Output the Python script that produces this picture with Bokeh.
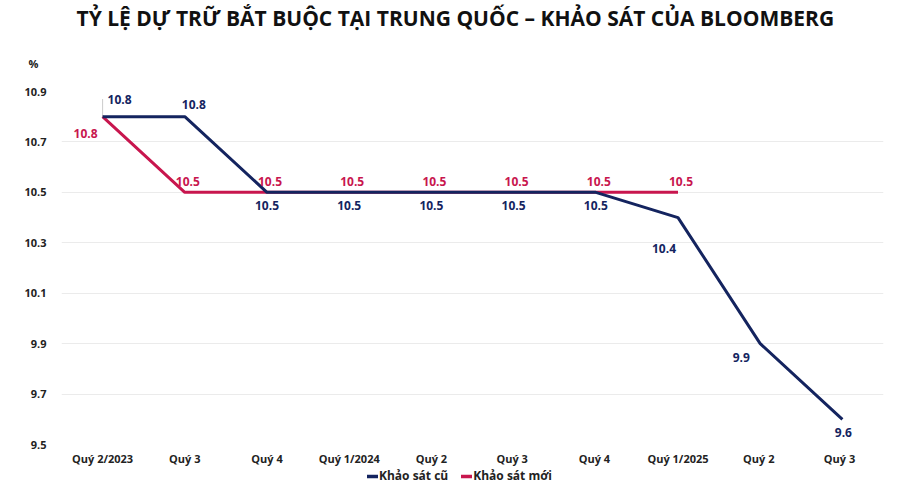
from bokeh.plotting import figure
from bokeh.layouts import column
from bokeh.models import Range1d, Legend, LegendItem, ColumnDataSource, FixedTicker, Title
from bokeh.core.properties import value
from bokeh.embed import file_html
from bokeh.resources import INLINE

# ---- data ----
quarters = ["Quý 2/2023", "Quý 3", "Quý 4", "Quý 1/2024", "Quý 2", "Quý 3 ",
            "Quý 4 ", "Quý 1/2025", "Quý 2 ", "Quý 3  "]
old_survey = [10.8, 10.8, 10.5, 10.5, 10.5, 10.5, 10.5, 10.4, 9.9, 9.6]
new_survey = [10.8, 10.5, 10.5, 10.5, 10.5, 10.5, 10.5, 10.5]
y_ticks = [9.5, 9.7, 9.9, 10.1, 10.3, 10.5, 10.7, 10.9]
title_text = "TỶ LỆ DỰ TRỮ BẮT BUỘC TẠI TRUNG QUỐC – KHẢO SÁT CỦA BLOOMBERG"
series_names = ["Khảo sát cũ", "Khảo sát mới"]
unit_label = "%"

NAVY = "#14245f"
RED = "#c8164e"
FONT = "Open Sans"

p = figure(width=884, height=468, x_range=quarters, y_range=Range1d(9.5, 10.9),
           output_backend="svg", toolbar_location=None, title=None,
           min_border_left=61, min_border_right=1, min_border_top=0,
           min_border_bottom=24)
p.outline_line_color = None
p.background_fill_color = "white"

# titles (first added = closest to the frame)
p.add_layout(Title(text=unit_label, align="left", offset=-33, standoff=42,
                   text_font=FONT, text_font_size="11px", text_font_style="bold",
                   text_color="#222222"), "above")
p.add_layout(Title(text=title_text, align="left", offset=15, standoff=2,
                   text_font=FONT, text_font_size="21px", text_font_style="bold",
                   text_color="#111111"), "above")

# axes
p.yaxis.ticker = FixedTicker(ticks=y_ticks)
p.yaxis.axis_line_color = None
p.yaxis.major_tick_line_color = None
p.yaxis.minor_tick_line_color = None
p.yaxis.major_label_text_font = FONT
p.yaxis.major_label_text_font_size = "11px"
p.yaxis.major_label_text_font_style = "bold"
p.yaxis.major_label_text_color = "#222222"
p.yaxis.major_label_standoff = 9

p.xaxis.axis_line_color = None
p.xaxis.major_tick_line_color = None
p.xaxis.minor_tick_line_color = None
p.xaxis.major_label_text_font = FONT
p.xaxis.major_label_text_font_size = "11px"
p.xaxis.major_label_text_font_style = "bold"
p.xaxis.major_label_text_color = "#222222"
p.xaxis.major_label_standoff = 0

p.xgrid.grid_line_color = None
p.ygrid.grid_line_color = "#ebebeb"
p.ygrid.grid_line_width = 1

# lines
old_src = ColumnDataSource(dict(x=quarters, y=old_survey,
                                t=[f"{v:.1f}" for v in old_survey]))
new_src = ColumnDataSource(dict(x=quarters[:len(new_survey)], y=new_survey,
                                t=[f"{v:.1f}" for v in new_survey]))

# leader line for first label
p.segment(x0=[quarters[0]], y0=[old_survey[0]], x1=[quarters[0]], y1=[old_survey[0] + 0.07],
          line_color="#cccccc", line_width=1)

r_new = p.line("x", "y", source=new_src, line_color=RED, line_width=3)
r_old = p.line("x", "y", source=old_src, line_color=NAVY, line_width=3)

# label offsets (screen px)
old_src.data["dx"] = [17, 9, 0, 0, 0, 0, 0, -14, -19, 1]
old_src.data["dy"] = [-17, -12, 13, 13, 13, 13, 13, 31, 14, 13]
new_src.data["dx"] = [-17, 3, 3, 3, 3, 3, 3, 3]
new_src.data["dy"] = [17, -11, -11, -11, -11, -11, -11, -11]

p.text("x", "y", text="t", source=old_src, x_offset="dx", y_offset="dy",
       text_font=value(FONT), text_font_size="12px", text_font_style="bold",
       text_color=NAVY, text_align="center", text_baseline="middle")
p.text("x", "y", text="t", source=new_src, x_offset="dx", y_offset="dy",
       text_font=value(FONT), text_font_size="12px", text_font_style="bold",
       text_color=RED, text_align="center", text_baseline="middle")

# ---- legend strip ----
lf = figure(width=884, height=16, output_backend="svg", toolbar_location=None,
            x_range=Range1d(0, 1), y_range=Range1d(0, 1), title=None,
            x_axis_location=None, y_axis_location=None,
            min_border_left=61, min_border_right=1, min_border_top=0, min_border_bottom=0)
lf.outline_line_color = None
lf.xgrid.visible = False
lf.ygrid.visible = False
# legend-only renderers (no visible points)
l_old = lf.line(x=[0], y=[float("nan")], line_color=NAVY, line_width=3.5, line_cap="round")
l_new = lf.line(x=[0], y=[float("nan")], line_color=RED, line_width=3.5, line_cap="round")
legend = Legend(items=[LegendItem(label=series_names[0], renderers=[l_old]),
                       LegendItem(label=series_names[1], renderers=[l_new])],
                orientation="horizontal", location=(306, 0),
                label_text_font=FONT, label_text_font_size="12px",
                label_text_font_style="bold",
                label_text_color="#222222", glyph_width=11, glyph_height=14,
                label_standoff=1, spacing=13, padding=0, margin=0,
                label_height=14, border_line_color=None, background_fill_alpha=0)
lf.add_layout(legend, "center")

layout = column(p, lf, spacing=0)
open("out.html", "w").write(file_html(layout, INLINE))
